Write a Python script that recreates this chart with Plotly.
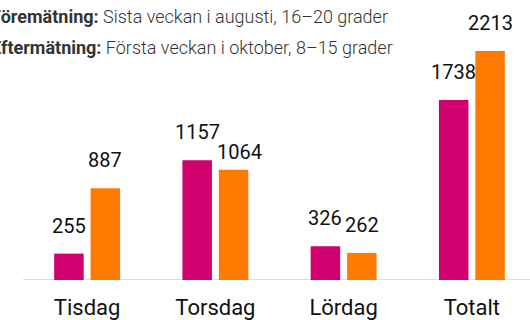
import plotly.graph_objects as go

# Data
categories = ["Tisdag", "Torsdag", "Lördag", "Totalt"]
fore_values = [255, 1157, 326, 1738]    # Föremätning
efter_values = [887, 1064, 262, 2213]   # Eftermätning

# Per-label nudges (px) so neighbouring value labels don't collide
efter_label_dx = [0, 6, 0, 0]
efter_label_dy = [0, -10, 0, 0]

MAGENTA = "#D0006F"
ORANGE = "#FF7A00"
FONT = "Roboto"

fig = go.Figure()
bar_w = 0.23
fig.add_trace(go.Bar(x=list(range(len(categories))), y=fore_values, width=bar_w,
                     offset=-0.257, marker=dict(color=MAGENTA, line=dict(width=0)),
                     name="Föremätning", hoverinfo="y"))
fig.add_trace(go.Bar(x=list(range(len(categories))), y=efter_values, width=bar_w,
                     offset=0.027, marker=dict(color=ORANGE, line=dict(width=0)),
                     name="Eftermätning", hoverinfo="y"))

annotations = []
for i, v in enumerate(fore_values):
    annotations.append(dict(x=i - 0.142, y=v, xref="x", yref="y", text=str(v),
                            showarrow=False, yanchor="bottom", yshift=14,
                            font=dict(family=FONT, size=20, color="#111")))
for i, v in enumerate(efter_values):
    annotations.append(dict(x=i + 0.142, y=v, xref="x", yref="y", text=str(v),
                            showarrow=False, yanchor="bottom",
                            yshift=14 + efter_label_dy[i], xshift=efter_label_dx[i],
                            font=dict(family=FONT, size=20, color="#111")))

# Header lines explaining the two measurements
header = [
    ("Föremätning:", "Sista veckan i augusti, 16–20 grader"),
    ("Eftermätning:", "Första veckan i oktober, 8–15 grader"),
]
for k, (bold, rest) in enumerate(header):
    annotations.append(dict(x=-0.068, y=1.0, xref="paper", yref="paper",
                            xanchor="left", yanchor="middle",
                            yshift=4 - 31 * k, showarrow=False,
                            text=f"<b>{bold}</b> {rest}",
                            font=dict(family=FONT, size=18, color="#333", weight=300)))

fig.update_layout(
    width=530, height=320,
    margin=dict(l=23, r=0, t=20, b=40, autoexpand=False),
    paper_bgcolor="white", plot_bgcolor="white",
    barmode="overlay", showlegend=False,
    annotations=annotations,
    shapes=[dict(type="line", xref="paper", yref="y", x0=0, x1=1, y0=0, y1=0,
                 line=dict(color="#DCDCDC", width=2), layer="below")],
    xaxis=dict(range=[-0.5, 3.453], tickvals=list(range(len(categories))),
               ticktext=categories, showgrid=False, zeroline=False, showline=False,
               ticks="", ticklabelstandoff=12, automargin=False,
               tickfont=dict(family=FONT, size=22, color="#111")),
    yaxis=dict(range=[0, 2512], visible=False, showgrid=False, automargin=False),
)

fig.write_html("out.html")
